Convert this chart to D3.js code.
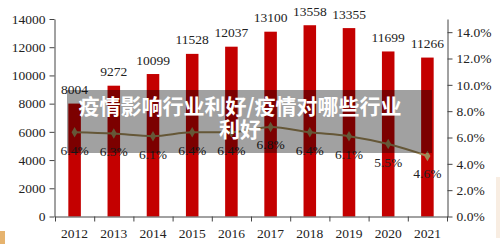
<!DOCTYPE html>
<html>
<head>
<meta charset="utf-8">
<script src="https://cdn.jsdelivr.net/npm/d3@7/dist/d3.min.js"></script>
<style>
  html, body { margin: 0; padding: 0; background: #fff; }
  svg { display: block; }
  .axis text { font-family: "Liberation Serif", "DejaVu Serif", serif; font-size: 13.5px; fill: #222; }
  .axis path, .axis line { stroke: #444; }
</style>
</head>
<body>
<script>
// Chart data
var years = ["2012", "2013", "2014", "2015", "2016", "2017", "2018", "2019", "2020", "2021"];
var amounts = [8004, 9272, 10099, 11528, 12037, 13100, 13558, 13355, 11699, 11266];
var growth = [0.064, 0.063, 0.061, 0.064, 0.064, 0.068, 0.064, 0.061, 0.055, 0.046];
var leftTicks = [0, 2000, 4000, 6000, 8000, 10000, 12000, 14000];
var rightTicks = [0, 0.02, 0.04, 0.06, 0.08, 0.10, 0.12, 0.14];
var titleLines = ["疫情影响行业利好/疫情对哪些行业", "利好"];

var width = 500,
	height = 244;

var plot = { left: 55, right: 447, top: 19, bottom: 216.5 };

var svg = d3.select("body")
	.append("svg")
		.attr("width", width)
		.attr("height", height);

// faint scraps of the original background at the edges
svg.append("rect")
	.attr("x", 0).attr("y", 231).attr("width", 5).attr("height", 13)
	.style("fill", "#e0a04a").style("opacity", 0.8);
svg.append("rect")
	.attr("x", 496).attr("y", 177).attr("width", 4).attr("height", 61)
	.style("fill", "#f5e6d6").style("opacity", 0.7);

// Scales
var x = d3.scaleBand()
	.domain(years)
	.range([plot.left, plot.right])
	.paddingInner(0.68)
	.paddingOuter(0.34);

var xEdge = d3.scaleLinear()
	.domain([0, years.length])
	.range([plot.left, plot.right]);

var yLeft = d3.scaleLinear()
	.domain([0, 14000])
	.range([plot.bottom, plot.top]);

var yRight = d3.scaleLinear()
	.domain([0, 0.15])
	.range([plot.bottom, plot.top]);

// Bars
svg.append("g")
	.selectAll("rect")
	.data(amounts)
	.enter()
		.append("rect")
			.attr("x", function(d, i) { return x(years[i]); })
			.attr("y", function(d) { return yLeft(d); })
			.attr("width", x.bandwidth())
			.attr("height", function(d) { return yLeft(0) - yLeft(d); })
			.style("fill", "#c40000");

// Bar value labels
svg.append("g")
	.selectAll("text")
	.data(amounts)
	.enter()
		.append("text")
			.attr("x", function(d, i) { return x(years[i]) + x.bandwidth() / 2; })
			.attr("y", function(d) { return yLeft(d) - 9.5; })
			.attr("text-anchor", "middle")
			.style("font-family", "'Liberation Serif', serif")
			.style("font-size", "13.5px")
			.style("fill", "#222")
			.text(function(d) { return d; });

// Axes
svg.append("g")
	.attr("class", "axis")
	.attr("transform", "translate(" + (plot.left - 0.5) + ",0)")
	.call(d3.axisLeft(yLeft)
		.tickValues(leftTicks)
		.tickSize(5)
		.tickSizeOuter(0)
		.tickPadding(4)
		.tickFormat(function(d) { return d; }));

svg.append("g")
	.attr("class", "axis")
	.attr("transform", "translate(" + (plot.right + 0.5) + ",0)")
	.call(d3.axisRight(yRight)
		.tickValues(rightTicks)
		.tickSize(5)
		.tickSizeOuter(0)
		.tickPadding(4)
		.tickFormat(d3.format(".1%")));

// x axis: boundary ticks, then year labels
svg.append("g")
	.attr("class", "axis")
	.attr("transform", "translate(0," + plot.bottom + ")")
	.call(d3.axisBottom(xEdge)
		.tickValues(d3.range(years.length + 1))
		.tickSize(5)
		.tickSizeOuter(0)
		.tickFormat(""));

svg.append("g")
	.attr("class", "axis")
	.attr("transform", "translate(0," + plot.bottom + ")")
	.call(d3.axisBottom(x).tickSize(0).tickPadding(12))
	.call(function(g) { g.select(".domain").remove(); });

// Growth line
var line = d3.line()
	.x(function(d, i) { return x(years[i]) + x.bandwidth() / 2; })
	.y(function(d) { return yRight(d); })
	.curve(d3.curveMonotoneX);

svg.append("path")
	.datum(growth)
	.attr("d", line)
	.style("fill", "none")
	.style("stroke", "#a08a58")
	.style("stroke-width", 2);

svg.append("g")
	.selectAll("path")
	.data(growth)
	.enter()
		.append("path")
			.attr("d", d3.symbol().type(d3.symbolDiamond).size(32))
			.attr("transform", function(d, i) {
				return "translate(" + (x(years[i]) + x.bandwidth() / 2) + "," + yRight(d) + ")";
			})
			.style("fill", "#a08a58");

svg.append("g")
	.selectAll("text")
	.data(growth)
	.enter()
		.append("text")
			.attr("x", function(d, i) { return x(years[i]) + x.bandwidth() / 2; })
			.attr("y", function(d) { return yRight(d) + 22.5; })
			.attr("text-anchor", "middle")
			.style("font-family", "'Liberation Serif', serif")
			.style("font-size", "13.5px")
			.style("fill", "#222")
			.text(d3.format(".1%"));

// Title banner laid over the chart
svg.append("rect")
	.attr("x", 67)
	.attr("y", 90)
	.attr("width", 365)
	.attr("height", 63)
	.style("fill", "#000")
	.style("opacity", 0.37);

svg.append("g")
	.selectAll("text")
	.data(titleLines)
	.enter()
		.append("text")
			.attr("x", 240)
			.attr("y", function(d, i) { return 114 + i * 23; })
			.attr("text-anchor", "middle")
			.style("font-family", "'Noto Sans CJK SC', sans-serif")
			.style("font-weight", "bold")
			.style("font-size", "21px")
			.style("fill", "#fff")
			.text(function(d) { return d; });
</script>
</body>
</html>
